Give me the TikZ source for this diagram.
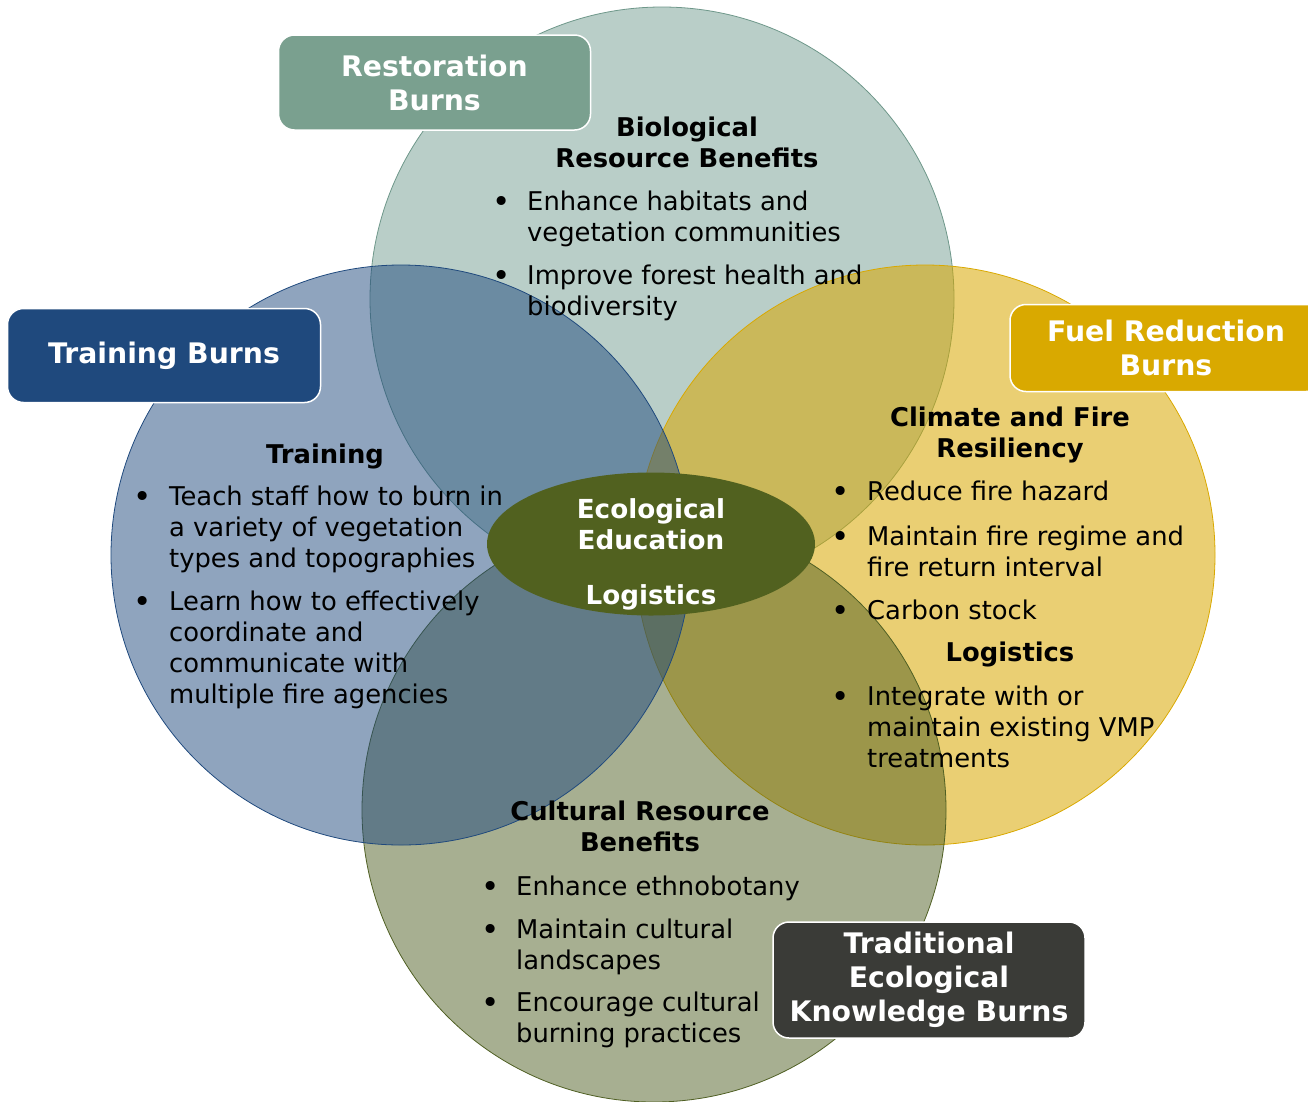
\documentclass[tikz,border=0pt]{standalone}
\usepackage{fontspec}
\setmainfont{DejaVu Sans}
\usetikzlibrary{shapes.geometric}
\definecolor{cTop}{HTML}{739D91}
\definecolor{cTopEdge}{HTML}{6E978A}
\definecolor{cLeft}{HTML}{1F497D}
\definecolor{cRight}{HTML}{D9A800}
\definecolor{cBot}{HTML}{4F5F23}
\definecolor{cRest}{HTML}{7AA08F}
\definecolor{cFuel}{HTML}{D9A900}
\definecolor{cTEK}{HTML}{3A3B37}
\definecolor{cEll}{HTML}{51611F}
\begin{document}
\begin{tikzpicture}[x=1pt,y=-1pt,
  circ/.style={circle, inner sep=0pt, line width=0.8pt},
  body/.style={font=\fontsize{25.8}{31}\selectfont, inner sep=0pt, align=left, anchor=north west},
  ttl/.style={font=\fontsize{25.8}{31}\selectfont\bfseries, inner sep=0pt, align=center, anchor=north},
  bul/.style={font=\fontsize{31}{31}\selectfont, inner sep=0pt, anchor=base, yshift=-2pt},
  burnbox/.style={rounded corners=16pt, draw=white, line width=1.5pt, text=white,
    font=\fontsize{28.3}{34}\selectfont\bfseries, align=center, inner sep=0pt},
]
\clip (0,0) rectangle (1308,1101);
\useasboundingbox (0,0) rectangle (1308,1101);

% circles
\node[circ, minimum size=584pt, fill=cTop, fill opacity=0.5, draw=cTopEdge] (bio) at (662,299) {};
\node[circ, minimum size=580pt, fill=cRight, fill opacity=0.55, draw=cRight] (fuelc) at (925,555) {};
\node[circ, minimum size=584pt, fill=cBot, fill opacity=0.5, draw=cBot] (cult) at (654,810) {};
\node[circ, minimum size=580pt, fill=cLeft, fill opacity=0.5, draw=cLeft] (train) at (401,555) {};

% centre ellipse
\node[ellipse, fill=cEll, minimum width=328pt, minimum height=143pt, inner sep=0pt] (ell) at (651,544) {};
\node[font=\fontsize{26.2}{31}\selectfont\bfseries, text=white, align=center, anchor=north, inner sep=0pt]
  (elltxt) at (651,496.6) {\strut Ecological\\Education\\[23.7pt]Logistics};

% top circle text
\node[ttl] (biot) at (687,114.3) {\strut Biological\\Resource Benefits};
\node[bul] (biob1) at (502,210) {•};
\node[body] (biox1) at (527,188.3) {\strut Enhance habitats and\\vegetation communities};
\node[bul] (biob2) at (502,284) {•};
\node[body] (biox2) at (527,262.3) {\strut Improve forest health and\\biodiversity};

% left circle text
\node[ttl] (trt) at (325,441.6) {\strut Training};
\node[bul] (trb1) at (143,505) {•};
\node[body] (trx1) at (169,483.3) {\strut Teach staff how to burn in\\a variety of vegetation\\types and topographies};
\node[bul] (trb2) at (143,610) {•};
\node[body] (trx2) at (169,588.3) {\strut Learn how to effectively\\coordinate and\\communicate with\\multiple fire agencies};

% right circle text
\node[ttl] (fut) at (1010,404.3) {\strut Climate and Fire\\Resiliency};
\node[bul] (fub1) at (841,500) {•};
\node[body] (fux1) at (867,478.3) {\strut Reduce fire hazard};
\node[bul] (fub2) at (841,545) {•};
\node[body] (fux2) at (867,523.3) {\strut Maintain fire regime and\\fire return interval};
\node[bul] (fub3) at (841,619) {•};
\node[body] (fux3) at (867,597.3) {\strut Carbon stock};
\node[ttl] (fut2) at (1010,640) {\strut Logistics};
\node[bul] (fub4) at (841,705) {•};
\node[body] (fux4) at (867,683.3) {\strut Integrate with or\\maintain existing VMP\\treatments};

% bottom circle text
\node[ttl] (cut) at (640,798.3) {\strut Cultural Resource\\Benefits};
\node[bul] (cub1) at (491,895) {•};
\node[body] (cux1) at (516,873.3) {\strut Enhance ethnobotany};
\node[bul] (cub2) at (491,938.3) {•};
\node[body] (cux2) at (516,916.6) {\strut Maintain cultural\\landscapes};
\node[bul] (cub3) at (491,1011.7) {•};
\node[body] (cux3) at (516,990) {\strut Encourage cultural\\burning practices};

% label boxes
\node[burnbox, fill=cRest, minimum width=312pt, minimum height=95pt] (restb) at (434.5,82.5) {Restoration\\Burns};
\node[burnbox, fill=cLeft, minimum width=313pt, minimum height=94pt] (trainb) at (164,355.5) {Training Burns};
\node[burnbox, fill=cFuel, minimum width=312pt, minimum height=87pt] (fuelb) at (1166,348) {Fuel Reduction\\Burns};
\node[burnbox, fill=cTEK, minimum width=312pt, minimum height=116pt] (tekb) at (929,980) {Traditional\\Ecological\\Knowledge Burns};
\end{tikzpicture}
\end{document}
